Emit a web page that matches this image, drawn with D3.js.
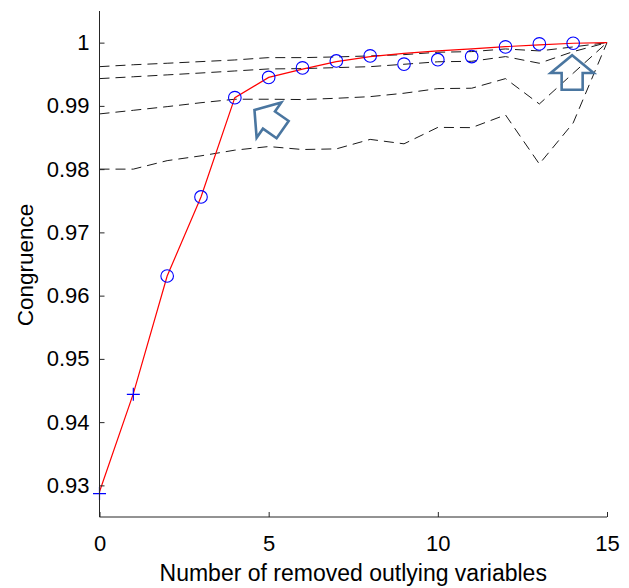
<!DOCTYPE html>
<html>
<head>
<meta charset="utf-8">
<script src="https://cdn.jsdelivr.net/npm/d3@7.9.0/dist/d3.min.js"></script>
<style>
  body { margin: 0; background: #fff; }
  svg { display: block; font-family: "Liberation Sans", Arial, sans-serif; }
  .axis path, .axis line { stroke: #262626; }
  .axis text { font-size: 22px; fill: #000; }
</style>
</head>
<body>
<div id="chart"></div>
<script>
// number of removed variables (x)
const steps = d3.range(0, 16);

// dashed reference curves, top to bottom
const dashA = [0.9962, 0.9965, 0.99674, 0.9970, 0.99726, 0.99763, 0.99763, 0.99774, 0.9979, 0.9981, 0.99848, 0.99858, 0.9990, 0.99869, 0.99932, 1.0];
const dashB = [0.99431, 0.9946, 0.9949, 0.9952, 0.99552, 0.99584, 0.99589, 0.99605, 0.9962, 0.99658, 0.99697, 0.99705, 0.99779, 0.99674, 0.99858, 1.0];
const dashC = [0.98873, 0.9893, 0.98988, 0.9905, 0.99105, 0.99105, 0.9910, 0.9912, 0.99146, 0.9920, 0.99273, 0.99279, 0.99431, 0.99030, 0.99516, 1.0];
const dashD = [0.9800, 0.9800, 0.98134, 0.9821, 0.9830, 0.98357, 0.9831, 0.9832, 0.9847, 0.9840, 0.9866, 0.98656, 0.98857, 0.98081, 0.9873, 1.0];

// red congruence curve
const redCurve = [0.9290, 0.9445, 0.9631, 0.9756, 0.9913, 0.9945, 0.9958, 0.9970, 0.9978, 0.9983, 0.9987, 0.9990, 0.99937, 0.99964, 0.9999, 1.0];

// markers
const plusX = [0, 1];
const plusY = [0.9287, 0.9444];
const circleX = d3.range(2, 15);
const circleY = [0.9631, 0.9756, 0.9913, 0.9945, 0.9960, 0.9971, 0.9979, 0.9966, 0.9973, 0.9978, 0.99932, 0.9998, 0.9999];

// arrow annotations: tip position in data units and rotation
const arrowX = [4.58, 13.97];
const arrowY = [0.98936, 0.9980];
const arrowAngle = [-55, 0];

const xTicks = [0, 5, 10, 15];
const yTicks = [0.93, 0.94, 0.95, 0.96, 0.97, 0.98, 0.99, 1];

const width = 629;
const height = 588;
const margin = { top: 11, right: 22, bottom: 71, left: 99.5 };

const svg = d3.select('#chart')
  .append('svg')
  .attr('width', width)
  .attr('height', height);

const xScale = d3.scaleLinear()
  .domain([0, 15])
  .range([margin.left, width - margin.right]);

const yScale = d3.scaleLinear()
  .domain([0.925, 1.005])
  .range([height - margin.bottom, margin.top]);

const line = d3.line()
  .x((d, i) => xScale(steps[i]))
  .y((d) => yScale(d));

// dashed curves
svg.append('g')
  .selectAll('path')
  .data([dashA, dashB, dashC, dashD])
  .join('path')
  .attr('d', line)
  .attr('fill', 'none')
  .attr('stroke', '#1a1a1a')
  .attr('stroke-width', 1)
  .attr('stroke-dasharray', '10,6');

// red curve
svg.append('path')
  .attr('d', line(redCurve))
  .attr('fill', 'none')
  .attr('stroke', '#ff0000')
  .attr('stroke-width', 1.2);

// circles
svg.append('g')
  .selectAll('circle')
  .data(circleY)
  .join('circle')
  .attr('cx', (d, i) => xScale(circleX[i]))
  .attr('cy', (d) => yScale(d))
  .attr('r', 6.3)
  .attr('fill', 'none')
  .attr('stroke', '#0000ff')
  .attr('stroke-width', 1.1);

// plus markers
const plusSize = 6.5;
svg.append('g')
  .selectAll('path')
  .data(plusY)
  .join('path')
  .attr('d', (d, i) => {
    const cx = xScale(plusX[i]), cy = yScale(d);
    return `M${cx - plusSize},${cy}H${cx + plusSize}M${cx},${cy - plusSize}V${cy + plusSize}`;
  })
  .attr('stroke', '#0000ff')
  .attr('stroke-width', 1.2);

// axes
const xAxis = d3.axisBottom(xScale)
  .tickValues(xTicks)
  .tickSizeInner(-5)
  .tickSizeOuter(0)
  .tickPadding(18);

const yAxis = d3.axisLeft(yScale)
  .tickValues(yTicks)
  .tickSizeInner(-5)
  .tickSizeOuter(0)
  .tickPadding(10)
  .tickFormat((d) => d === 1 ? '1' : d3.format('.2f')(d));

svg.append('g')
  .attr('class', 'axis')
  .attr('transform', `translate(0,${height - margin.bottom})`)
  .call(xAxis)
  .call((g) => g.select('.domain').attr('d', `M${margin.left},0H${width - margin.right}`));

svg.append('g')
  .attr('class', 'axis')
  .attr('transform', `translate(${margin.left},0)`)
  .call(yAxis)
  .call((g) => g.select('.domain').attr('d', `M0,${margin.top}V${height - margin.bottom}`));

svg.selectAll('.axis').attr('font-family', null).attr('font-size', null);

// axis labels
svg.append('text')
  .attr('x', (xScale(0) + xScale(15)) / 2)
  .attr('y', 581)
  .attr('text-anchor', 'middle')
  .attr('font-size', 23)
  .text('Number of removed outlying variables');

svg.append('text')
  .attr('transform', `translate(33,${(yScale(0.925) + yScale(1.005)) / 2 + 1}) rotate(-90)`)
  .attr('text-anchor', 'middle')
  .attr('font-size', 22.5)
  .text('Congruence');

// hollow block arrows (shape pointing up, tip at origin)
const arrowShape = [[0, 0], [21.5, 17.7], [10.5, 17.7], [10.5, 34.4], [-10.5, 34.4], [-10.5, 17.7], [-21.5, 17.7]];
svg.append('g')
  .selectAll('path')
  .data(arrowX)
  .join('path')
  .attr('d', d3.line().curve(d3.curveLinearClosed)(arrowShape))
  .attr('transform', (d, i) => `translate(${xScale(d)},${yScale(arrowY[i])}) rotate(${arrowAngle[i]})`)
  .attr('fill', 'none')
  .attr('stroke', '#4a76a0')
  .attr('stroke-width', 2.6)
  .attr('stroke-linejoin', 'miter');
</script>
</body>
</html>
